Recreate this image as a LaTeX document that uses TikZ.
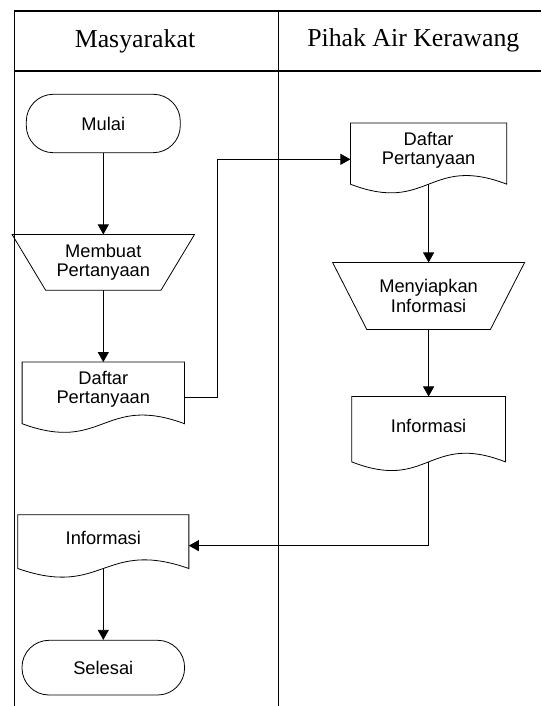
\documentclass[tikz,border=0pt]{standalone}
\usepackage{fontspec}
\setmainfont{Liberation Sans}
\newfontfamily\lanefont{Liberation Serif}
\usetikzlibrary{arrows.meta}

% document symbol round a named node, wave 7pt below its south
\newcommand{\docoutline}[1]{%
  \draw[boxline] (#1.north west) -- (#1.north east) -- ([yshift=-7pt]#1.south east)
    .. controls ([yshift=23pt]#1.south) and ([yshift=-37pt]#1.south) ..
    ([yshift=-7pt]#1.south west) -- cycle;}

% manual operation round a named node
\newcommand{\trapoutline}[2]{%
  \draw[boxline] (#1.north west) -- (#1.north east) -- ([xshift=-#2]#1.south east)
    -- ([xshift=#2]#1.south west) -- cycle;}

\begin{document}
\begin{tikzpicture}[x=1pt,y=1pt,
  boxline/.style={line width=0.8pt},
  lane/.style={line width=1.6pt},
  flow/.style={line width=0.8pt,-{Triangle[length=10pt,width=11pt]}},
  textbox/.style={align=center,inner sep=0pt,font=\fontsize{18.3}{19.5}\selectfont},
  terminal/.style={textbox,draw,line width=0.8pt,rounded corners=27pt},
  lanetitle/.style={anchor=base,inner sep=0pt,font=\lanefont\fontsize{25.8}{30}\selectfont}]

\useasboundingbox (0,0) rectangle (541,706);

% lanes
\draw[lane] (14.3,0) -- (14.3,695) -- (541,695);
\draw[lane] (14.3,635) -- (541,635);
\draw[lane] (278.5,0) -- (278.5,695);

\node[lanetitle] (masy) at (135,658.5) {Masyarakat};
\node[lanetitle] (pihak) at (413.3,659.5) {Pihak Air Kerawang};

% Masyarakat
\node[terminal,minimum width=154pt,minimum height=58.4pt] (mulai) at (103.3,582.5) {Mulai};

\node[textbox,minimum width=182pt,minimum height=55.3pt] (buat) at (103.3,443.65) {Membuat\\Pertanyaan};
\trapoutline{buat}{33.5pt}

\node[textbox,minimum width=162pt,minimum height=54.2pt] (daftar) at (103.3,316.6) {Daftar\\Pertanyaan};
\docoutline{daftar}

\node[textbox,minimum width=170.7pt,minimum height=46.3pt] (info) at (103.3,167.85) {Informasi};
\docoutline{info}

\node[terminal,minimum width=162.6pt,minimum height=54.7pt] (selesai) at (103.3,38.35) {Selesai};

% Pihak Air Kerawang
\node[textbox,minimum width=156pt,minimum height=53.7pt] (daftarair) at (428.6,555.85) {Daftar\\Pertanyaan};
\docoutline{daftarair}

\node[textbox,minimum width=191.6pt,minimum height=66.6pt] (siap) at (428.6,410) {Menyiapkan\\Informasi};
\trapoutline{siap}{34.2pt}

\node[textbox,minimum width=153.3pt,minimum height=58pt] (infoair) at (428.6,280.3) {Informasi};
\docoutline{infoair}

% flow
\draw[flow] (mulai.south) -- (buat.north);
\draw[flow] (buat.south) -- (daftar.north);
\draw[flow] ([yshift=-7.6pt]daftar.east) -- ++(32.4,0) |- ([yshift=-9.2pt]daftarair.west);
\draw[flow] ([yshift=-7pt]daftarair.south) -- (siap.north);
\draw[flow] (siap.south) -- (infoair.north);
\draw[flow] ([yshift=-7pt]infoair.south) |- ([yshift=-7.5pt]info.east);
\draw[flow] ([yshift=-7pt]info.south) -- (selesai.north);

\end{tikzpicture}
\end{document}
